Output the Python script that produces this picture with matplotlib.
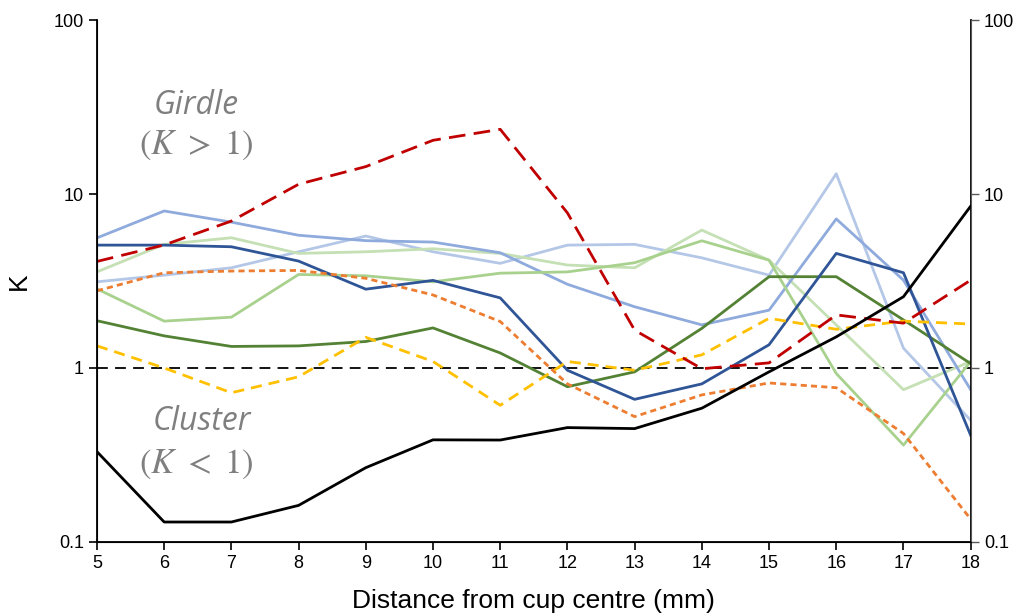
import matplotlib.pyplot as plt
from matplotlib.ticker import FixedLocator, FixedFormatter, NullLocator

plt.rcParams["font.family"] = ["Liberation Sans", "DejaVu Sans"]
plt.rcParams["mathtext.fontset"] = "stix"

distance = [5, 6, 7, 8, 9, 10, 11, 12, 13, 14, 15, 16, 17, 18]

red_dashed = [4.1, 5.1, 7.0, 11.4, 14.4, 20.4, 23.6, 7.8, 1.65, 0.99, 1.07, 2.02, 1.81, 3.2]
blue_mid = [5.6, 8.0, 6.9, 5.8, 5.4, 5.3, 4.6, 3.03, 2.25, 1.77, 2.15, 7.2, 3.2, 0.75]
blue_light = [3.13, 3.42, 3.77, 4.66, 5.74, 4.66, 4.0, 5.09, 5.14, 4.3, 3.42, 13.1, 1.3, 0.5]
blue_dark = [5.09, 5.09, 4.98, 4.12, 2.84, 3.19, 2.53, 0.97, 0.66, 0.81, 1.36, 4.56, 3.53, 0.41]
green_pale = [3.57, 5.14, 5.61, 4.56, 4.66, 4.85, 4.56, 3.91, 3.77, 6.21, 4.17, 1.77, 0.75, 1.09]
green_light = [2.85, 1.86, 1.96, 3.45, 3.39, 3.13, 3.51, 3.57, 4.03, 5.39, 4.17, 0.93, 0.36, 1.09]
green_dark = [1.87, 1.53, 1.33, 1.34, 1.42, 1.7, 1.22, 0.78, 0.95, 1.69, 3.35, 3.35, 1.89, 1.06]
orange_dotted = [2.78, 3.53, 3.61, 3.64, 3.28, 2.63, 1.85, 0.81, 0.525, 0.7, 0.82, 0.77, 0.42, 0.135]
yellow_dashed = [1.34, 1.0, 0.72, 0.89, 1.5, 1.09, 0.61, 1.09, 0.97, 1.19, 1.93, 1.67, 1.86, 1.79]
black_solid = [0.33, 0.13, 0.13, 0.162, 0.267, 0.386, 0.385, 0.454, 0.448, 0.587, 0.95, 1.51, 2.57, 8.53]

fig = plt.figure(figsize=(10.25, 6.15), dpi=100)
ax = fig.add_axes([0.0946, 0.119, 0.8524, 0.848])

lw = 2.0
ax.axhline(1, color="black", lw=1.3, ls=(0, (6, 4)), zorder=1)
ax.plot(distance, blue_light, color="#B4C7E7", lw=lw)
ax.plot(distance, green_pale, color="#C5E0B4", lw=lw)
ax.plot(distance, blue_mid, color="#8FAADC", lw=lw)
ax.plot(distance, green_light, color="#A9D18E", lw=lw)
ax.plot(distance, green_dark, color="#548235", lw=lw)
ax.plot(distance, blue_dark, color="#2F5597", lw=lw)
ax.plot(distance, orange_dotted, color="#ED7D31", lw=lw, ls=(0, (2.2, 1.5)))
ax.plot(distance, yellow_dashed, color="#FFC000", lw=lw, ls=(0, (4, 2.5)))
ax.plot(distance, red_dashed, color="#C00000", lw=lw, ls=(0, (6, 3)))
ax.plot(distance, black_solid, color="black", lw=lw)

ticks_y = [0.1, 1, 10, 100]
labels_y = ["0.1", "1", "10", "100"]

ax.set_yscale("log")
ax.set_ylim(0.1, 100)
ax.set_xlim(5, 18)
ax.set_xticks(distance)
ax.yaxis.set_major_locator(FixedLocator(ticks_y))
ax.yaxis.set_major_formatter(FixedFormatter(labels_y))
ax.yaxis.set_minor_locator(NullLocator())
ax.tick_params(labelsize=13, direction="out", length=6, width=1.2)
ax.spines["top"].set_visible(False)
for s in ["left", "bottom", "right"]:
    ax.spines[s].set_linewidth(1.3)

ax2 = ax.twinx()
ax2.set_yscale("log")
ax2.set_ylim(0.1, 100)
ax2.yaxis.set_major_locator(FixedLocator(ticks_y))
ax2.yaxis.set_major_formatter(FixedFormatter(labels_y))
ax2.yaxis.set_minor_locator(NullLocator())
ax2.tick_params(labelsize=13, direction="out", length=6, width=1.0, color="#595959")
ax2.spines["top"].set_visible(False)
ax2.spines["right"].set_color("#595959")

ax.set_xlabel("Distance from cup centre (mm)", fontsize=19, labelpad=12)
ax.set_ylabel("K", fontsize=19, labelpad=16)

gray = "#7F7F7F"
ax.text(6.48, 32.5, "Girdle", fontsize=23, style="italic", color=gray, ha="center", va="center",
        family=["Open Sans", "DejaVu Sans"])
ax.text(6.48, 19.1, r"$(K\ >\ 1)$", fontsize=25, color=gray, ha="center", va="center")
ax.text(6.56, 0.49, "Cluster", fontsize=23, style="italic", color=gray, ha="center", va="center",
        family=["Open Sans", "DejaVu Sans"])
ax.text(6.48, 0.28, r"$(K\ <\ 1)$", fontsize=25, color=gray, ha="center", va="center")

fig.savefig("out.png", dpi=100)
